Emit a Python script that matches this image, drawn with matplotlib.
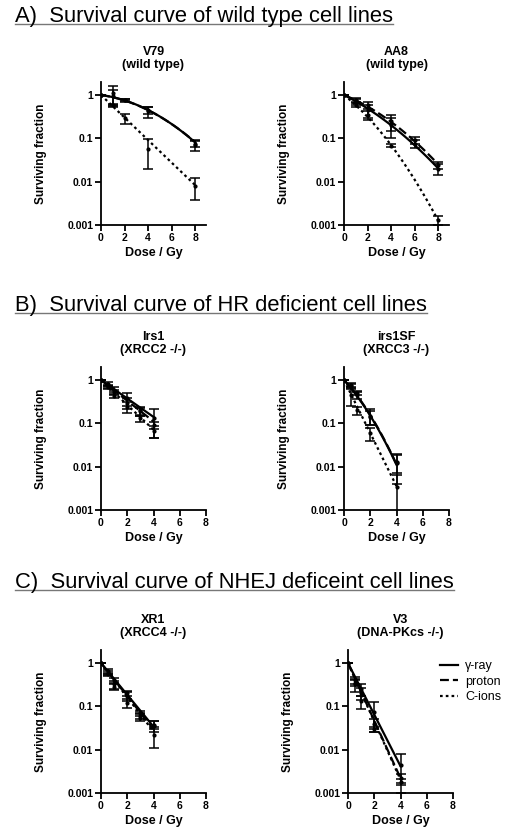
import numpy as np
import matplotlib.pyplot as plt

plt.rcParams['font.family'] = ['Liberation Sans', 'DejaVu Sans']

labels = ['γ-ray', 'proton', 'C-ions']
styles = ['-', (0, (4, 1.8)), (0, (1.2, 1.4))]

# V79 (wild type) -- rows: gamma-ray, proton, C-ions
v79_dose = [0, 1, 2, 4, 8]
v79_mean = [[1, 1.1, 0.78, 0.42, 0.07],
            [1, 0.95, 0.75, 0.45, 0.075],
            [1, 0.58, 0.29, 0.058, 0.0079]]
v79_sd = [[0, 0.55, 0.05, 0.12, 0.02],
          [0, 0.35, 0.06, 0.08, 0.012],
          [0, 0.05, 0.07, 0.038, 0.0042]]
v79_alpha = [0.084, 0.09, 0.6]
v79_beta = [0.029, 0.028, 0.0]

# AA8 (wild type)
aa8_dose = [0, 1, 2, 4, 6, 8]
aa8_mean = [[1, 0.7, 0.45, 0.2, 0.075, 0.02],
            [1, 0.75, 0.58, 0.25, 0.09, 0.024],
            [1, 0.6, 0.35, 0.068, np.nan, 0.0013]]
aa8_sd = [[0, 0.12, 0.15, 0.1, 0.015, 0.006],
          [0, 0.1, 0.1, 0.1, 0.015, 0.004],
          [0, 0.08, 0.08, 0.006, np.nan, 0.0003]]
aa8_alpha = [0.316, 0.254, 0.50]
aa8_beta = [0.0216, 0.026, 0.042]

# Irs1 (XRCC2 -/-)
irs1_dose = [0, 0.5, 1, 2, 3, 4]
irs1_mean = [[1, 0.8, 0.6, 0.38, 0.2, 0.13],
             [1, 0.72, 0.52, 0.3, 0.19, 0.09],
             [1, 0.68, 0.43, 0.24, 0.13, 0.065]]
irs1_sd = [[0, 0.08, 0.08, 0.13, 0.04, 0.085],
           [0, 0.06, 0.06, 0.08, 0.04, 0.015],
           [0, 0.05, 0.04, 0.07, 0.02, 0.02]]
irs1_alpha = [0.49, 0.55, 0.66]
irs1_beta = [0.0, 0.0, 0.0]

# irs1SF (XRCC3 -/-)
irs1sf_dose = [0, 0.5, 1, 2, 4]
irs1sf_mean = [[1, 0.72, 0.45, 0.15, 0.012],
               [1, 0.78, 0.5, 0.14, 0.013],
               [1, 0.45, 0.2, 0.06, 0.0034]]
irs1sf_sd = [[0, 0.1, 0.08, 0.06, 0.008],
             [0, 0.08, 0.06, 0.05, 0.006],
             [0, 0.2, 0.04, 0.02, 0.003]]
irs1sf_alpha = [0.77, 0.74, 1.41]
irs1sf_beta = [0.089, 0.095, 0.0]

# XR1 (XRCC4 -/-)
xr1_dose = [0, 0.5, 1, 2, 3, 4]
xr1_mean = [[1, 0.65, 0.4, 0.2, 0.07, 0.035],
            [1, 0.6, 0.32, 0.17, 0.06, 0.038],
            [1, 0.55, 0.28, 0.12, 0.055, 0.022]]
xr1_sd = [[0, 0.08, 0.05, 0.03, 0.01, 0.01],
          [0, 0.06, 0.07, 0.04, 0.01, 0.008],
          [0, 0.05, 0.04, 0.03, 0.01, 0.011]]
xr1_alpha = [0.845, 0.88, 0.91]
xr1_beta = [0.0, 0.0, 0.0]

# V3 (DNA-PKcs -/-)
v3_dose = [0, 0.5, 1, 2, 4]
v3_mean = [[1, 0.4, 0.25, 0.075, 0.0045],
           [1, 0.35, 0.2, 0.04, 0.0022],
           [1, 0.32, 0.13, 0.03, 0.0018]]
v3_sd = [[0, 0.07, 0.08, 0.05, 0.0035],
         [0, 0.05, 0.06, 0.01, 0.0005],
         [0, 0.1, 0.045, 0.004, 0.0003]]
v3_alpha = [1.37, 1.53, 1.55]
v3_beta = [0.0, 0.0, 0.0]

headers = ['A)  Survival curve of wild type cell lines',
           'B)  Survival curve of HR deficient cell lines',
           'C)  Survival curve of NHEJ deficeint cell lines']

W, H = 512, 836
fig = plt.figure(figsize=(W / 100, H / 100), dpi=100)

# (title, dose, mean, sd, alpha, beta, xmax, fit_max, left px, top px)
panels = [
    ('V79\n(wild type)', v79_dose, v79_mean, v79_sd, v79_alpha, v79_beta, 8.9, 8, 101, 82),
    ('AA8\n(wild type)', aa8_dose, aa8_mean, aa8_sd, aa8_alpha, aa8_beta, 8.9, 8, 344, 82),
    ('Irs1\n(XRCC2 -/-)', irs1_dose, irs1_mean, irs1_sd, irs1_alpha, irs1_beta, 8, 4, 101, 367),
    ('irs1SF\n(XRCC3 -/-)', irs1sf_dose, irs1sf_mean, irs1sf_sd, irs1sf_alpha, irs1sf_beta, 8, 4, 344, 367),
    ('XR1\n(XRCC4 -/-)', xr1_dose, xr1_mean, xr1_sd, xr1_alpha, xr1_beta, 8, 4, 101, 650),
    ('V3\n(DNA-PKcs -/-)', v3_dose, v3_mean, v3_sd, v3_alpha, v3_beta, 8, 4, 348, 650),
]

aw, ah = 105, 143
axes = []
for title, dose, mean, sd, alpha, beta, xmax, fit_max, left, top in panels:
    ax = fig.add_axes([left / W, 1 - (top + ah) / H, aw / W, ah / H])
    axes.append(ax)
    ax.set_yscale('log')
    ax.set_ylim(0.001, 2)
    ax.set_xlim(0, xmax)
    d = np.array(dose, dtype=float)
    xs = np.linspace(0, fit_max, 100)
    for i in range(3):
        m = np.array(mean[i], dtype=float)
        s = np.array(sd[i], dtype=float)
        lo = np.minimum(s, m * 0.95)
        ax.errorbar(d, m, yerr=[lo, s], fmt='o', ms=2, color='black',
                    ecolor='black', elinewidth=1.1, capsize=3.5, capthick=1.1,
                    clip_on=True)
        ax.plot(xs, np.exp(-alpha[i] * xs - beta[i] * xs ** 2), color='black',
                lw=1.6, linestyle=styles[i], label=labels[i])
    ax.set_xticks([0, 2, 4, 6, 8])
    ax.set_yticks([1, 0.1, 0.01, 0.001])
    ax.set_yticklabels(['1', '0.1', '0.01', '0.001'])
    ax.minorticks_off()
    for sp in ['top', 'right']:
        ax.spines[sp].set_visible(False)
    for sp in ['left', 'bottom']:
        ax.spines[sp].set_linewidth(1.3)
    ax.tick_params(direction='out', length=4, width=1.3, labelsize=7.5, pad=1.5)
    for t in ax.get_xticklabels() + ax.get_yticklabels():
        t.set_fontweight('bold')
    ax.set_xlabel('Dose / Gy', fontsize=9, fontweight='bold', labelpad=3)
    ax.set_ylabel('Surviving fraction', fontsize=8.5, fontweight='bold', labelpad=15)
    ax.set_title(title, fontsize=9, fontweight='bold', pad=10, linespacing=1.1)

axes[-1].legend(loc='upper left', bbox_to_anchor=(440 / W, 1 - 660 / H),
                bbox_transform=fig.transFigure, frameon=False, fontsize=9,
                handlelength=1.4, handletextpad=0.6, labelspacing=0.3,
                borderpad=0, borderaxespad=0)

# section headers with underline
fig.canvas.draw()
renderer = fig.canvas.get_renderer()
for text, base in zip(headers, [22, 311, 588]):
    t = fig.text(15 / W, 1 - base / H, text, fontsize=15.8, va='baseline', ha='left')
    bb = t.get_window_extent(renderer)
    yline = 1 - (base + 1.5) / H
    fig.add_artist(plt.Line2D([bb.x0 / W, bb.x1 / W], [yline, yline],
                              color='#777777', lw=1))

fig.savefig('out.png', dpi=100)
